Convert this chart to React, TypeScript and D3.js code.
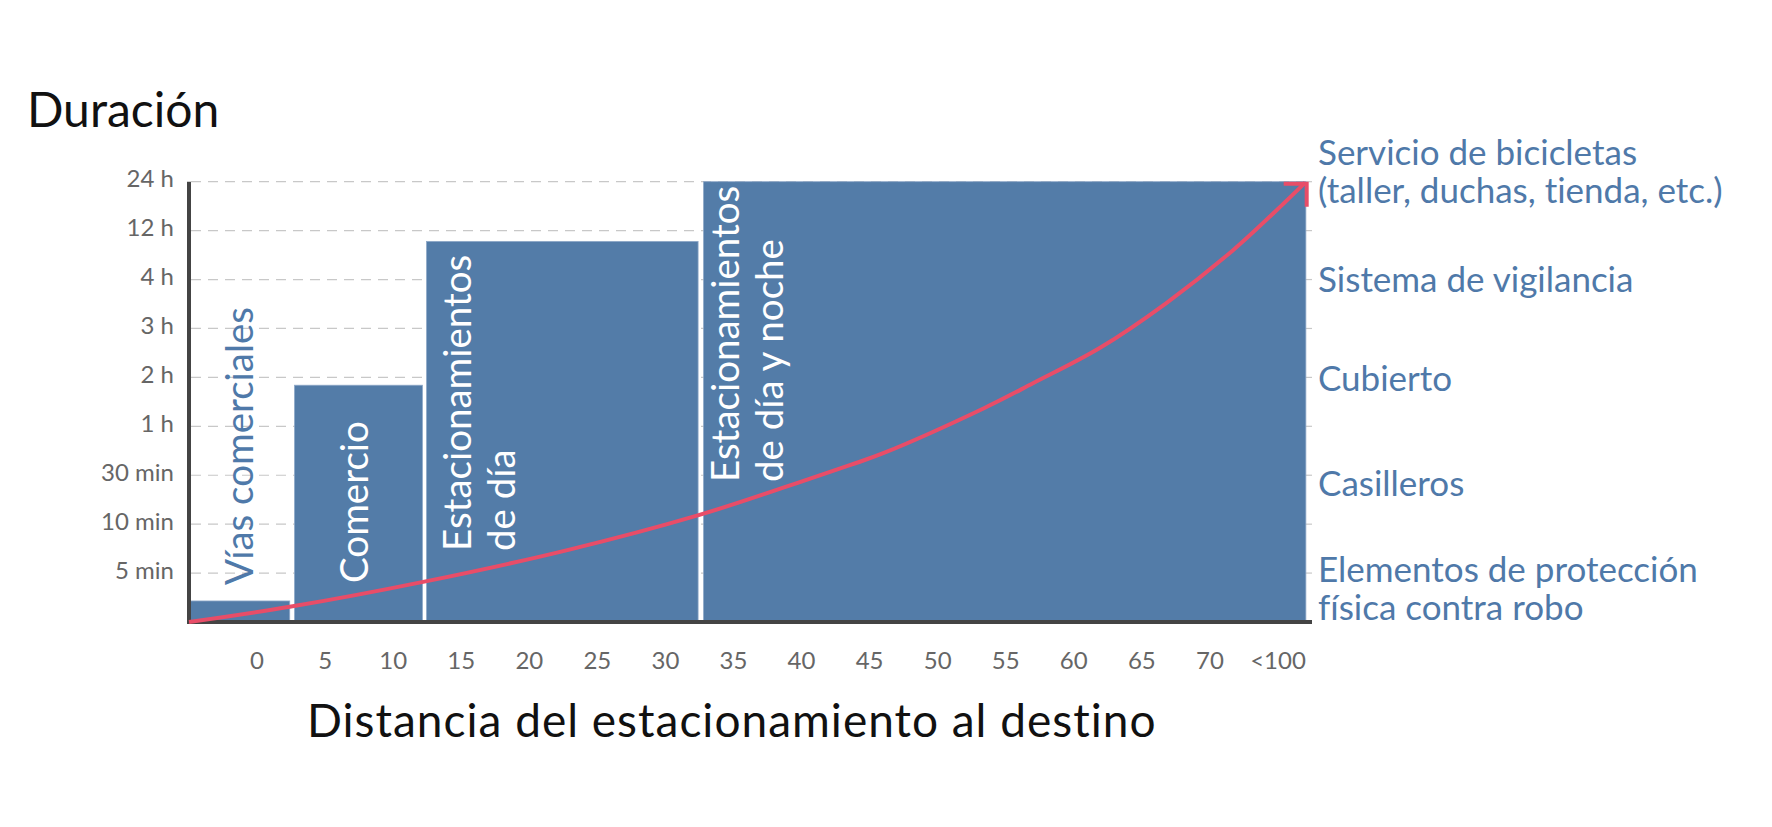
import React from "react";
import * as d3 from "d3";

// ---- data ----
const distanceTicks = ["0", "5", "10", "15", "20", "25", "30", "35", "40", "45", "50", "55", "60", "65", "70", "<100"];
const durationTicks = ["5 min", "10 min", "30 min", "1 h", "2 h", "3 h", "4 h", "12 h", "24 h"];

const barNames = [["Vías comerciales"], ["Comercio"], ["Estacionamientos", "de día"], ["Estacionamientos", "de día y noche"]];
const barStart = [-5, 2.75, 12.45, 32.8];
const barEnd = [2.4, 12.15, 32.4, 77.05];
const barLevel = [0.43, 4.84, 7.78, 9];

const curveDist = [-5, 2.4, 12.2, 22.8, 32.5, 38.6, 43.6, 46.0, 53.4, 57.0, 61.9, 66.8, 71.7, 75.4, 77.0];
const curveLevel = [0, 0.31, 0.82, 1.47, 2.19, 2.74, 3.21, 3.45, 4.37, 4.88, 5.6, 6.52, 7.6, 8.55, 8.98];

const amenities = [
  ["Servicio de bicicletas", "(taller, duchas, tienda, etc.)"],
  ["Sistema de vigilancia"],
  ["Cubierto"],
  ["Casilleros"],
  ["Elementos de protección", "física contra robo"],
];

const FONT = "Lato, 'Open Sans', sans-serif";
const BAR = "#537ca8";
const RED = "#e84d68";
const BLUE_TEXT = "#4f79a9";

export default function App() {
  const W = 1772, H = 827;
  const x = d3.scaleLinear().domain([-5, 77.5]).range([189, 1312]);
  const y = d3.scaleLinear().domain([0, 9]).range([622, 181.7]);

  const levels = d3.range(1, 10);
  const line = d3
    .line<number>()
    .x((_, i) => x(curveDist[i]))
    .y((d) => y(d))
    .curve(d3.curveCatmullRom.alpha(0.5));
  const path = line(curveLevel) || "";

  // label placement (pixels)
  const labelOffsetX = [64, 74, 44, 35];
  const labelStartY = [585, 583, 551, 482];
  const labelLineGap = 44.3;
  const amenityBaselines = [165, 291.7, 390.7, 496, 581.7];
  const amenityLineGap = 38.3;

  const tipX = x(curveDist[curveDist.length - 1]) + 1.5;
  const tipY = y(curveLevel[curveLevel.length - 1]) + 1;

  return (
    <svg width={W} height={H} style={{ position: "absolute", left: 0, top: 0, background: "#fff", fontVariantLigatures: "none" }} fontFamily={FONT}>
      <text x={27} y={127} fontSize={48} fill="#111">Duración</text>

      {/* gridlines */}
      {levels.map((l) => (
        <line key={"g" + l} x1={x(-5) + 2} x2={x(77.05)} y1={y(l)} y2={y(l)} stroke="#c8c8c8" strokeWidth={1.2} strokeDasharray="10 7" />
      ))}
      {/* right ticks */}
      {levels.map((l) => (
        <line key={"rt" + l} x1={x(77.05)} x2={x(77.5)} y1={y(l)} y2={y(l)} stroke="#c8c8c8" strokeWidth={1.2} />
      ))}

      {/* bars */}
      {barLevel.map((v, i) => (
        <rect key={"b" + i} x={x(barStart[i])} y={y(v)} width={x(barEnd[i]) - x(barStart[i])} height={y(0) - y(v)} fill={BAR} stroke="#8ea8c8" strokeWidth={0.8} />
      ))}

      {/* y tick labels */}
      {durationTicks.map((t, i) => (
        <text key={"yt" + i} x={174} y={y(i + 1) + 5.5} textAnchor="end" fontSize={24} fill="#666">{t}</text>
      ))}

      {/* axes */}
      <line x1={x(-5)} x2={x(-5)} y1={y(9)} y2={y(0) + 2} stroke="#444" strokeWidth={4} />
      <line x1={x(-5) - 2} x2={x(77.5)} y1={y(0)} y2={y(0)} stroke="#444" strokeWidth={4} />

      {/* x tick labels */}
      {distanceTicks.map((t, i) => (
        <text key={"xt" + i} x={x(i * 5)} y={668.5} textAnchor="middle" fontSize={24} fill="#666">{t}</text>
      ))}

      {/* bar labels */}
      {barNames.map((lines, i) => {
        const bx = x(barStart[i]);
        return lines.map((s, j) => {
          const tx = bx + labelOffsetX[i] + j * labelLineGap;
          const ty = labelStartY[i];
          return (
            <text key={"bl" + i + "-" + j} transform={`translate(${tx},${ty}) rotate(-90)`} fontSize={38.5} fill={i === 0 ? BLUE_TEXT : "#fff"}>{s}</text>
          );
        });
      })}

      {/* curve */}
      <path d={path} fill="none" stroke={RED} strokeWidth={4} />
      <path d={`M${tipX - 23},${tipY} L${tipX},${tipY} L${tipX},${tipY + 23}`} fill="none" stroke={RED} strokeWidth={4} />

      {/* amenity labels */}
      {amenities.map((lines, i) =>
        lines.map((s, j) => (
          <text key={"a" + i + "-" + j} x={1318} y={amenityBaselines[i] + j * amenityLineGap} fontSize={35} fill={BLUE_TEXT}>{s}</text>
        ))
      )}

      <text x={307} y={737} fontSize={46} letterSpacing={1} fill="#111">Distancia del estacionamiento al destino</text>
    </svg>
  );
}
